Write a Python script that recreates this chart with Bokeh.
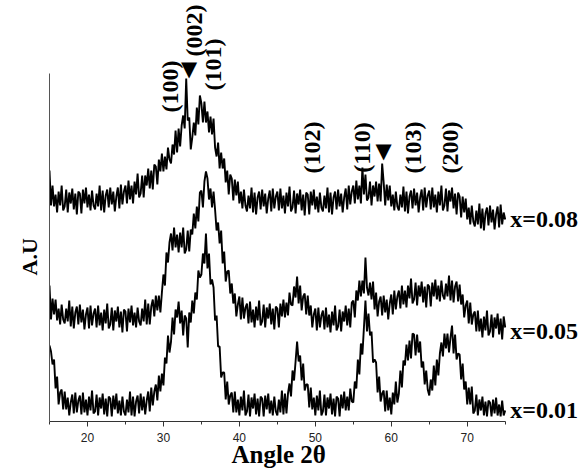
import numpy as np
from bokeh.plotting import figure
from bokeh.models import Range1d, FixedTicker, Label, Title
from bokeh.embed import file_html
from bokeh.resources import INLINE

# 2-theta sampling grid (degrees)
two_theta = np.round(np.linspace(15, 75, 301), 1)

# Intensities (A.U., stacked as displayed)
x008 = [
    255, 220, 240, 219, 231, 213, 234, 220, 240, 215,
    219, 236, 213, 233, 222, 237, 216, 232, 211, 234,
    232, 212, 236, 222, 238, 218, 231, 215, 235, 220,
    216, 232, 219, 240, 215, 235, 213, 230, 236, 218,
    238, 221, 234, 214, 229, 238, 217, 241, 221, 234,
    240, 222, 245, 226, 240, 222, 244, 231, 252, 228,
    232, 250, 228, 250, 240, 257, 237, 255, 236, 261,
    259, 241, 266, 254, 272, 254, 269, 256, 278, 266,
    262, 281, 271, 295, 273, 297, 279, 300, 310, 297,
    347, 305, 308, 276, 288, 303, 290, 318, 301, 330,
    322, 303, 324, 303, 314, 293, 309, 291, 307, 278,
    269, 283, 257, 273, 257, 267, 243, 255, 231, 251,
    247, 225, 246, 230, 244, 222, 234, 217, 236, 220,
    214, 230, 217, 238, 213, 233, 211, 228, 234, 216,
    236, 219, 232, 212, 227, 235, 214, 237, 217, 229,
    234, 215, 237, 217, 230, 212, 233, 219, 239, 214,
    218, 235, 212, 232, 221, 236, 215, 231, 210, 233,
    231, 211, 234, 220, 236, 216, 229, 213, 233, 218,
    214, 230, 217, 238, 213, 233, 211, 228, 234, 216,
    236, 219, 232, 213, 228, 237, 216, 240, 221, 234,
    240, 222, 245, 226, 240, 222, 258, 231, 251, 225,
    228, 244, 220, 240, 229, 244, 224, 242, 224, 262,
    243, 220, 241, 225, 240, 219, 231, 215, 234, 219,
    215, 231, 218, 239, 214, 234, 212, 229, 235, 217,
    237, 220, 233, 213, 228, 236, 215, 238, 218, 230,
    235, 216, 238, 218, 231, 213, 234, 220, 240, 215,
    220, 237, 214, 235, 224, 238, 217, 232, 211, 233,
    229, 208, 229, 213, 227, 206, 218, 201, 220, 204,
    199, 215, 201, 222, 197, 217, 195, 212, 218, 200,
    220, 203, 216, 196, 211, 219, 198, 221, 201, 213,
    206,
]

x005 = [
    140, 106, 127, 111, 126, 105, 117, 101, 121, 106,
    102, 117, 104, 125, 99, 119, 97, 113, 119, 101,
    121, 103, 116, 96, 111, 118, 97, 120, 100, 112,
    117, 98, 120, 100, 113, 95, 116, 102, 122, 97,
    101, 118, 95, 115, 104, 119, 98, 114, 93, 116,
    114, 94, 117, 103, 120, 100, 113, 98, 118, 104,
    100, 117, 104, 126, 101, 122, 101, 119, 126, 109,
    130, 115, 130, 113, 133, 151, 140, 173, 163, 183,
    192, 175, 198, 178, 191, 173, 193, 178, 198, 172,
    176, 195, 174, 196, 191, 212, 197, 219, 204, 233,
    235, 218, 244, 254, 247, 226, 237, 218, 234, 216,
    195, 203, 182, 195, 162, 174, 144, 154, 155, 132,
    142, 122, 132, 109, 121, 129, 106, 128, 107, 118,
    122, 102, 124, 103, 116, 98, 119, 105, 125, 100,
    104, 121, 98, 118, 107, 122, 101, 117, 96, 119,
    117, 98, 122, 109, 126, 108, 123, 110, 133, 121,
    120, 139, 128, 149, 122, 140, 115, 129, 132, 111,
    130, 110, 120, 98, 111, 117, 95, 118, 98, 110,
    115, 96, 118, 98, 111, 93, 114, 100, 120, 95,
    99, 116, 94, 114, 104, 120, 100, 117, 98, 123,
    125, 108, 135, 125, 145, 129, 145, 132, 168, 138,
    130, 143, 126, 144, 116, 133, 109, 124, 129, 110,
    130, 113, 126, 106, 122, 131, 111, 135, 116, 129,
    135, 117, 140, 121, 135, 118, 140, 127, 147, 122,
    126, 143, 120, 140, 129, 144, 123, 139, 118, 141,
    139, 119, 143, 129, 146, 126, 140, 124, 145, 130,
    126, 142, 129, 150, 125, 145, 123, 139, 144, 124,
    141, 121, 131, 108, 120, 125, 102, 123, 101, 111,
    114, 94, 115, 94, 107, 88, 109, 95, 115, 90,
    94, 111, 88, 108, 97, 112, 91, 107, 86, 109,
    98,
]

x001 = [
    80, 74, 61, 66, 37, 49, 21, 33, 36, 16,
    34, 16, 28, 10, 23, 31, 12, 33, 13, 25,
    30, 11, 33, 13, 26, 10, 29, 15, 35, 12,
    14, 31, 10, 28, 17, 32, 11, 27, 9, 29,
    27, 9, 30, 16, 32, 12, 25, 10, 29, 14,
    10, 26, 13, 34, 10, 29, 9, 24, 30, 12,
    32, 15, 29, 11, 25, 34, 14, 38, 20, 34,
    41, 25, 50, 34, 52, 40, 68, 62, 90, 73,
    84, 108, 91, 116, 108, 124, 102, 115, 90, 110,
    107, 78, 113, 103, 125, 112, 133, 126, 155, 148,
    151, 172, 162, 192, 157, 172, 141, 146, 138, 105,
    110, 79, 79, 48, 53, 53, 26, 44, 21, 30,
    33, 13, 34, 13, 26, 10, 29, 15, 35, 10,
    14, 31, 9, 28, 17, 32, 11, 27, 9, 29,
    27, 9, 30, 16, 32, 12, 25, 10, 29, 14,
    10, 26, 13, 35, 11, 32, 12, 32, 42, 29,
    55, 45, 64, 84, 64, 70, 45, 62, 35, 41,
    41, 18, 38, 16, 28, 10, 30, 15, 35, 10,
    14, 31, 10, 28, 17, 32, 11, 27, 9, 29,
    27, 9, 31, 17, 34, 15, 29, 15, 37, 24,
    23, 44, 37, 66, 51, 82, 71, 98, 125, 94,
    112, 90, 94, 63, 66, 63, 33, 49, 24, 32,
    35, 14, 35, 15, 28, 11, 33, 21, 44, 23,
    32, 55, 38, 65, 60, 81, 65, 85, 67, 92,
    91, 70, 91, 73, 84, 58, 64, 41, 55, 36,
    30, 46, 35, 60, 40, 66, 50, 72, 83, 69,
    92, 77, 92, 73, 88, 100, 72, 91, 66, 72,
    71, 46, 62, 36, 44, 21, 38, 21, 39, 12,
    15, 31, 10, 26, 15, 29, 10, 24, 9, 25,
    23, 9, 26, 12, 28, 10, 21, 9, 25, 10,
    15,
]

series = [x008, x005, x001]
series_names = ["x=0.08", "x=0.05", "x=0.01"]
series_label_x = 75.66
series_label_y = [207, 95, 16]

peak_names = ["(100)", "(002)", "(101)", "(102)", "(110)", "(103)", "(200)"]
peak_x = [30.83, 33.99, 36.49, 49.55, 56.2, 62.89, 67.72]
peak_y = [339, 395, 361, 278, 278, 278, 278]

marker_x = [33.39, 58.98]
marker_y = [357, 275]

x_major = [20, 30, 40, 50, 60, 70]
x_minor = [15, 25, 35, 45, 55, 65, 75]

SERIF = "Liberation Serif"

# frame: left edge at 2θ=15, 7.595 px per degree; right edge at canvas edge
x_end = 15 + 535 / 7.595

p = figure(width=584, height=469, output_backend="svg", toolbar_location=None,
           title=None,
           x_range=Range1d(15, x_end), y_range=Range1d(4, 425),
           min_border_left=49, min_border_right=0, min_border_top=0,
           min_border_bottom=48)
p.outline_line_color = None
p.xgrid.visible = False
p.ygrid.visible = False
p.background_fill_color = "white"
p.border_fill_color = "white"

for ys in series:
    p.line(two_theta, ys, line_color="black", line_width=1.9)

# x axis
xa = p.xaxis[0]
xa.bounds = (15, 75)
xa.ticker = FixedTicker(ticks=x_major, minor_ticks=x_minor)
xa.major_label_text_font = "Liberation Sans"
xa.major_label_text_font_size = "12px"
xa.major_label_text_color = "#222222"
xa.major_label_standoff = 6
xa.axis_line_color = "#333333"
xa.major_tick_line_color = "#333333"
xa.minor_tick_line_color = "#333333"
xa.major_tick_out = 5
xa.major_tick_in = 0
xa.minor_tick_out = 3
xa.minor_tick_in = 0

# y axis
ya = p.yaxis[0]
ya.bounds = (4, 352)
ya.ticker = FixedTicker(ticks=[])
ya.axis_line_color = "#555555"
ya.major_tick_line_color = None
ya.minor_tick_line_color = None
ya.major_tick_out = 0
ya.major_label_standoff = 0
ya.axis_label_standoff = 0

p.add_layout(Title(text="Angle 2θ", align="left", offset=182, standoff=-11,
                   text_font=SERIF, text_font_style="bold",
                   text_font_size="25px", text_color="black"), "below")
p.add_layout(Title(text="A.U", align="left", offset=146, standoff=16,
                   text_font=SERIF, text_font_style="bold",
                   text_font_size="22px", text_color="black"), "left")

for name, ly in zip(series_names, series_label_y):
    p.add_layout(Label(x=series_label_x, y=ly, text=name, text_font=SERIF,
                       text_font_style="bold", text_font_size="24px",
                       text_align="left", text_baseline="middle",
                       text_color="black"))

for name, px_, py_ in zip(peak_names, peak_x, peak_y):
    p.add_layout(Label(x=px_, y=py_, text=name, angle=np.pi / 2,
                       text_font=SERIF, text_font_style="bold",
                       text_font_size="24px", text_align="center",
                       text_baseline="middle", text_color="black"))

for mx, my in zip(marker_x, marker_y):
    p.add_layout(Label(x=mx, y=my, text="▼", text_font="DejaVu Sans",
                       text_font_size="21px", text_align="center",
                       text_baseline="middle", text_color="black"))

open("out.html", "w").write(file_html(p, INLINE))
